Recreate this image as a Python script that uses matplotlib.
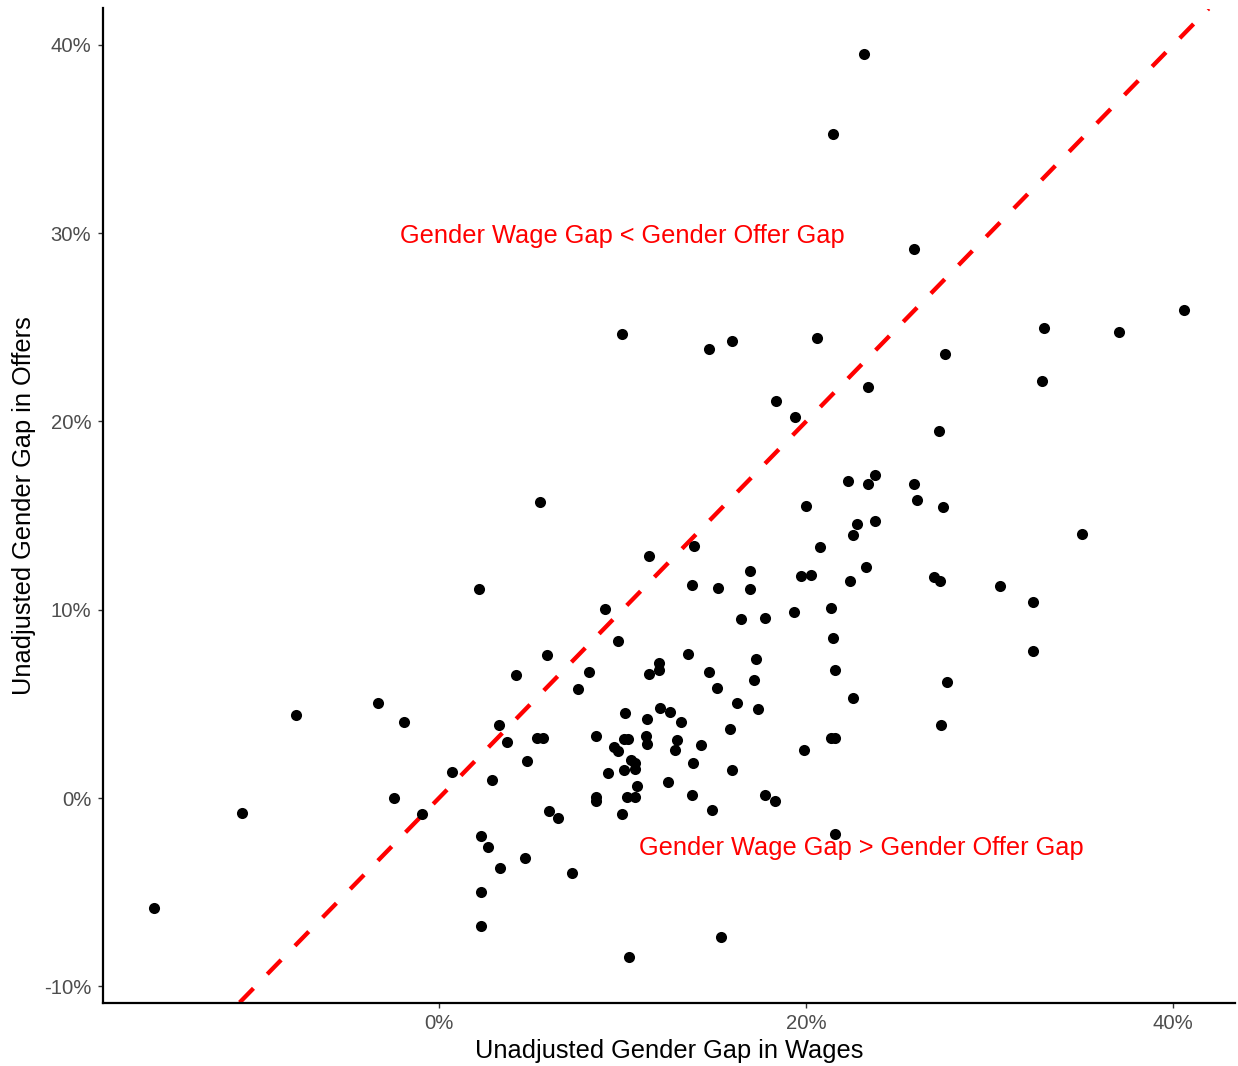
import matplotlib
matplotlib.use("Agg")
import matplotlib.pyplot as plt
from matplotlib.ticker import FuncFormatter

plt.rcParams["font.family"] = ["Liberation Sans", "DejaVu Sans"]

# unadjusted gender gaps (%) per occupation
wage_gap = [
    -15.50, -10.72, -7.81, -3.32, -1.92, 0.69, 2.88, 3.25, -2.43, -0.92,
    2.27, 2.68, 3.30, 2.27, 2.27, 13.87, 11.46, 20.76, 16.95, 19.74,
    20.27, 2.18, 13.78, 15.18, 16.95, 21.36, 9.07, 16.46, 17.75, 19.36,
    9.77, 21.47, 5.87, 13.57, 4.19, 8.16, 11.97, 11.97, 11.46, 14.69,
    17.26, 17.16, 7.56, 15.16, 21.59, 12.06, 12.56, 10.16, 11.35, 13.16,
    16.26, 17.37, 3.68, 5.33, 5.69, 8.58, 10.06, 10.30, 11.26, 11.35,
    12.97, 12.86, 14.27, 15.87, 9.54, 9.77, 10.47, 10.70, 10.06, 10.70,
    13.85, 19.88, 21.36, 21.58, 4.77, 9.18, 15.96, 10.79, 12.46, 8.58,
    8.58, 10.25, 10.70, 13.78, 17.75, 18.28, 14.87, 5.98, 6.47, 9.98,
    4.70, 7.27, 15.38, 10.37, 21.56, 40.56, 32.96, 37.06, 27.56, 32.85,
    27.25, 25.86, 26.05, 27.45, 35.05, 26.95, 27.27, 30.55, 32.35, 32.35,
    27.67, 27.36, 14.69, 15.98, 20.57, 18.38, 19.37, 23.37, 22.27, 23.76,
    23.37, 19.97, 22.77, 23.76, 22.57, 22.38, 23.26, 22.57, 9.95, 5.48,
    23.17, 21.47, 25.86,
]
offer_gap = [
    -5.85, -0.78, 4.41, 5.03, 4.02, 1.38, 0.98, 3.87, 0.02, -0.85,
    -2.00, -2.60, -3.73, -4.97, -6.78, 13.38, 12.86, 13.34, 12.06, 11.78,
    11.85, 11.09, 11.31, 11.16, 11.11, 10.07, 10.02, 9.49, 9.54, 9.87,
    8.35, 8.49, 7.57, 7.63, 6.53, 6.69, 7.18, 6.78, 6.58, 6.67,
    7.38, 6.26, 5.79, 5.82, 6.79, 4.79, 4.56, 4.50, 4.18, 4.03,
    5.03, 4.74, 2.97, 3.17, 3.17, 3.31, 3.15, 3.15, 3.29, 2.85,
    3.08, 2.55, 2.80, 3.68, 2.72, 2.48, 2.02, 1.87, 1.50, 1.56,
    1.86, 2.55, 3.17, 3.17, 1.96, 1.34, 1.47, 0.65, 0.83, 0.04,
    -0.14, 0.04, 0.04, 0.18, 0.18, -0.14, -0.62, -0.71, -1.08, -0.83,
    -3.17, -3.96, -7.36, -8.46, -1.93, 25.94, 24.96, 24.73, 23.60, 22.15,
    19.48, 16.67, 15.82, 15.48, 14.00, 11.75, 11.50, 11.24, 10.39, 7.79,
    6.17, 3.87, 23.83, 24.26, 24.43, 21.11, 20.26, 21.83, 16.81, 17.16,
    16.67, 15.50, 14.54, 14.70, 13.98, 11.50, 12.25, 5.29, 24.63, 15.73,
    39.53, 35.24, 29.18,
]

x_ticks = [0, 20, 40]
y_ticks = [-10, 0, 10, 20, 30, 40]

fig = plt.figure(figsize=(12.38, 10.66), dpi=100)
ax = fig.add_axes([103 / 1238, 63.5 / 1066, 1132 / 1238, 994 / 1066])

ax.scatter(wage_gap, offer_gap, s=64, color="black", linewidths=0, zorder=3)

# same 5% padding as the data range
def padded(vals):
    lo, hi = min(vals), max(vals)
    pad = (hi - lo) * 0.05
    return lo - pad, hi + pad

xlim = padded(wage_gap)
ylim = padded(offer_gap)
ax.set_xlim(xlim)
ax.set_ylim(ylim)

# 45 degree line: equal gaps
lo = ylim[0]
hi = min(xlim[1], ylim[1])
ax.plot([lo, hi], [lo, hi], color="#FF0000", lw=3.1, dashes=(4.6, 4.6),
        solid_capstyle="butt", dash_capstyle="butt", zorder=2)

ax.text(10, 30, "Gender Wage Gap < Gender Offer Gap", color="#FF0000",
        fontsize=18.3, ha="center", va="center_baseline")
ax.text(23, -2.5, "Gender Wage Gap > Gender Offer Gap", color="#FF0000",
        fontsize=18.3, ha="center", va="center_baseline")

pct = FuncFormatter(lambda v, pos: "{:.0f}%".format(v))
ax.set_xticks(x_ticks)
ax.set_yticks(y_ticks)
ax.xaxis.set_major_formatter(pct)
ax.yaxis.set_major_formatter(pct)
ax.tick_params(length=3.6, width=1.0, color="#333333", labelcolor="#4D4D4D",
               labelsize=14.6, pad=4.8)

for side in ["top", "right"]:
    ax.spines[side].set_visible(False)
for side in ["left", "bottom"]:
    ax.spines[side].set_linewidth(1.6)
    ax.spines[side].set_color("black")

ax.set_xlabel("Unadjusted Gender Gap in Wages", fontsize=18.3, labelpad=4)
ax.set_ylabel("Unadjusted Gender Gap in Offers", fontsize=18.3, labelpad=6)

fig.savefig("out.png", dpi=100, facecolor="white")
